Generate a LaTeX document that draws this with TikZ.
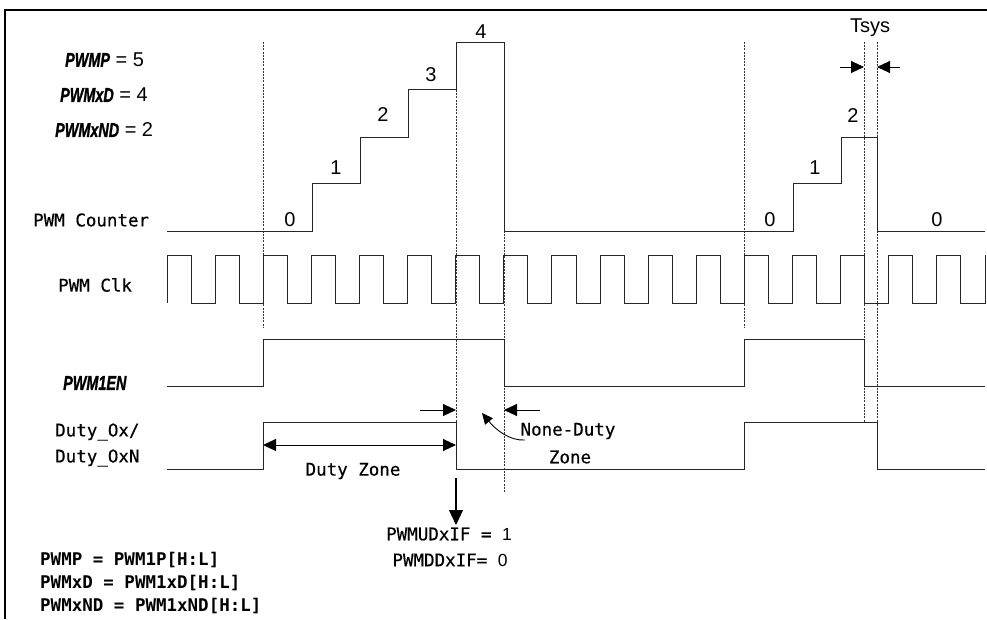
\documentclass[tikz,border=0pt]{standalone}
\usepackage{fontspec}
\usepackage{graphicx}
\usetikzlibrary{arrows.meta}
\newfontfamily\monof[FakeBold=0.4]{DejaVu Sans Mono}
\newfontfamily\monobf{DejaVu Sans Mono Bold}
\newfontfamily\arialf{Liberation Sans}
\newfontfamily\heavyf[FakeBold=1.5]{Liberation Sans Bold Italic}
\begin{document}
\begin{tikzpicture}[x=1pt,y=-1pt,
  sig/.style={line width=1pt,draw=black!85},
  guide/.style={line width=0.6pt,dash pattern=on 2pt off 1.2pt,draw=black!80},
  mlabel/.style={font=\monof\fontsize{17.5}{20}\selectfont,inner sep=0pt},
  blabel/.style={font=\monobf\fontsize{17.5}{20}\selectfont,inner sep=0pt},
  num/.style={font=\arialf\fontsize{20}{22}\selectfont,inner sep=0pt},
  bi/.style={font=\arialf\fontsize{20}{22}\selectfont,inner sep=0pt},
  tip/.style={-{Triangle[length=13pt,width=12pt]},line width=0.9pt},
  bigtip/.style={-{Triangle[length=15pt,width=14pt]},line width=1.1pt}]
\useasboundingbox (0,0) rectangle (987,619);
% frame
\draw[line width=1.6pt] (5,619) -- (5,10) -- (987,10);

% guide coordinates
\coordinate (g1t) at (263,42);   \coordinate (g1b) at (263,327);
\coordinate (g2t) at (456,42);   \coordinate (g2b) at (456,422);
\coordinate (g3t) at (504,42);   \coordinate (g3b) at (504,492);
\coordinate (g4t) at (744,42);   \coordinate (g4b) at (744,327);
\coordinate (g5t) at (864,42);   \coordinate (g5b) at (864,422);
\coordinate (g6t) at (877,42);   \coordinate (g6b) at (877,422);
\draw[guide] (g1t) -- (g1b);
\draw[guide] (g2t) -- (g2b);
\draw[guide] (g3t) -- (g3b);
\draw[guide] (g4t) -- (g4b);
\draw[guide] (g5t) -- (g5b);
\draw[guide] (g6t) -- (g6b);

% PWM counter
\draw[sig] (167,231) -- (312,231) -- (312,183) -- (360,183) -- (360,137) -- (408,137)
  -- (408,89) -- (456,89) -- (456,42) -- (504,42) -- (504,231) -- (793,231)
  -- (793,183) -- (841,183) -- (841,137) -- (877,137) -- (877,231) -- (985,231);

% PWM clock
\draw[sig] (167,303) -- (167,255)
  \foreach \k in {1,...,17}{ -- ++(24.06,0) -- ++(0,48) -- ++(24.06,0) -- ++(0,-48)};

% PWM1EN
\draw[sig] (167,386) -- (263,386) -- (263,339) -- (504,339) -- (504,386) -- (744,386)
  -- (744,339) -- (864,339) -- (864,386) -- (985,386);

% Duty
\draw[sig] (167,469) -- (263,469) -- (263,422) -- (456,422) -- (456,469) -- (744,469)
  -- (744,422) -- (877,422) -- (877,469) -- (985,469);

% counter values
\node[num] (c0)  at (290,220) {0};
\node[num] (c1)  at (336,168) {1};
\node[num] (c2)  at (383,115) {2};
\node[num] (c3)  at (431,75)  {3};
\node[num] (c4)  at (481,32)  {4};
\node[num] (d0)  at (770,220) {0};
\node[num] (d1)  at (815,168) {1};
\node[num] (d2)  at (853,116) {2};
\node[num] (e0)  at (937,220) {0};
\node[num] (tsys) at (870,28) {Tsys};

% Tsys arrows
\coordinate (ts1) at (840,67); \coordinate (ts1e) at (864,67);
\coordinate (ts2) at (900,67); \coordinate (ts2e) at (877,67);
\draw[tip] (ts1) -- (ts1e);
\draw[tip] (ts2) -- (ts2e);

% left parameter labels
\node[bi,anchor=west] (pp) at (65,60) {\scalebox{0.72}[1]{\heavyf PWMP} = 5};
\node[bi,anchor=west] (pd) at (60,95) {\scalebox{0.72}[1]{\heavyf PWMxD} = 4};
\node[bi,anchor=west] (pnd) at (55,130) {\scalebox{0.72}[1]{\heavyf PWMxND} = 2};

% signal labels
\node[mlabel,anchor=west] (lc) at (33,220) {PWM Counter};
\node[mlabel,anchor=west] (lk) at (58,285) {PWM Clk};
\node[bi,anchor=west] (le) at (63,383) {\scalebox{0.72}[1]{\heavyf PWM1EN}};
\node[mlabel,anchor=west] (ld1) at (55,432) {Duty\_Ox/};
\node[mlabel,anchor=west] (ld2) at (55,458) {Duty\_OxN};

% duty zone
\coordinate (dzl) at (263,445); \coordinate (dzr) at (456,445);
\draw[{Triangle[length=13pt,width=12pt]}-{Triangle[length=13pt,width=12pt]},line width=0.9pt] (dzl) -- (dzr);
\node[mlabel] (dz) at (353,471) {Duty Zone};

% none-duty zone arrows
\coordinate (na1) at (420,410); \coordinate (na1e) at (456,410);
\coordinate (na2) at (540,410); \coordinate (na2e) at (504,410);
\draw[tip] (na1) -- (na1e);
\draw[tip] (na2) -- (na2e);
\node[mlabel] (nd1) at (568,431) {None-Duty};
\node[mlabel] (nd2) at (570,457) {Zone};
\coordinate (cv0) at (525,440); \coordinate (cv1) at (482,413);
\draw[-{Triangle[length=11pt,width=10pt]},line width=0.9pt] (cv0) .. controls (510,441) and (496,430) .. (cv1);

% interrupt flag arrow
\coordinate (ia) at (456,478); \coordinate (ib) at (456,525);
\draw[bigtip] (ia) -- (ib);
\node[mlabel] (f1) at (449,534) {PWMUDxIF = {\arialf 1}};
\node[mlabel] (f2) at (450,560) {PWMDDxIF= {\arialf 0}};

% bottom definitions
\node[blabel,anchor=west] (b1) at (40,560) {PWMP = PWM1P[H:L]};
\node[blabel,anchor=west] (b2) at (40,583) {PWMxD = PWM1xD[H:L]};
\node[blabel,anchor=west] (b3) at (40,606) {PWMxND = PWM1xND[H:L]};
\end{tikzpicture}
\end{document}
